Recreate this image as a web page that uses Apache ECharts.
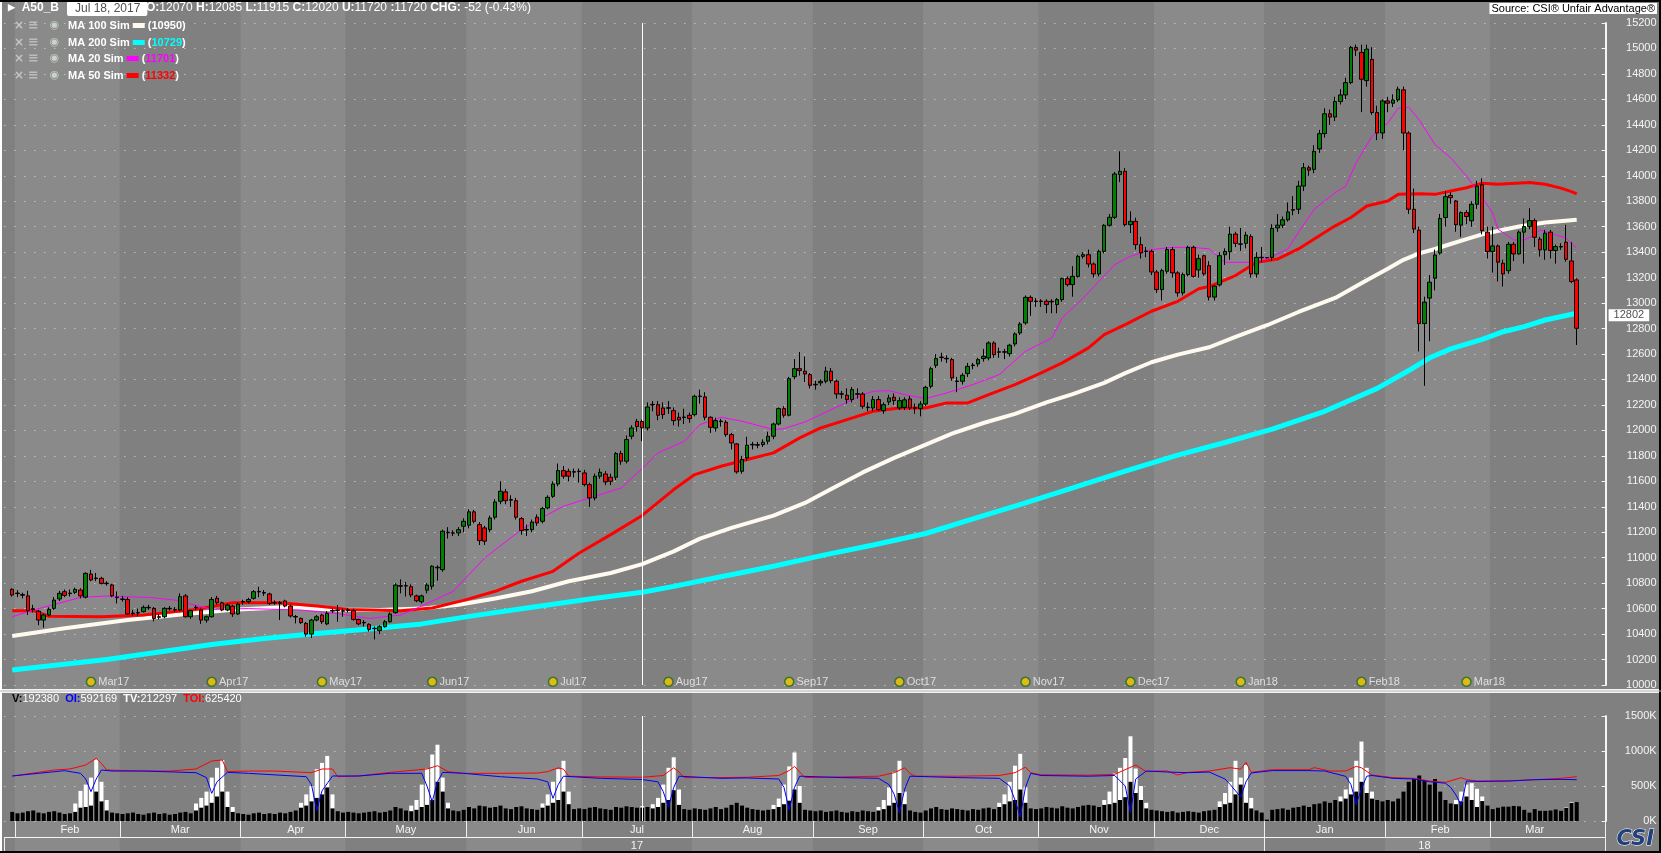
<!DOCTYPE html>
<html>
<head>
<meta charset="utf-8">
<title>A50_B</title>
<script src="https://cdn.jsdelivr.net/npm/echarts@6/dist/echarts.min.js"></script>
<style>
html, body { margin: 0; padding: 0; background: #808080; overflow: hidden; }
#chart { width: 1661px; height: 853px; }
</style>
</head>
<body>
<div id="chart"></div>
<script>
// bar 0 = 31 Jan 2017, one bar per weekday, last bar = 23 Mar 2018
// [open, close, low, high]
var ohlc = [
	[10751,10707,10694,10760],
	// Feb 17
	[10722,10718,10690,10745],[10710,10705,10680,10725],[10700,10584,10550,10740],[10600,10592,10570,10630],[10580,10510,10470,10590],
	[10510,10550,10450,10560],[10550,10594,10540,10610],[10602,10667,10590,10690],[10676,10720,10660,10740],[10733,10704,10690,10750],
	[10722,10718,10695,10750],[10728,10751,10715,10765],[10746,10700,10680,10760],[10690,10877,10680,10885],[10872,10825,10815,10905],
	[10840,10836,10815,10880],[10838,10798,10790,10850],[10800,10796,10780,10815],[10786,10700,10690,10795],[10690,10686,10640,10735],
	// Mar 17
	[10676,10672,10655,10700],[10672,10558,10550,10690],[10565,10561,10545,10590],[10568,10566,10540,10600],[10576,10610,10570,10625],
	[10610,10606,10590,10630],[10602,10523,10500,10612],[10536,10532,10515,10555],[10536,10602,10525,10612],[10602,10598,10585,10620],
	[10594,10590,10575,10612],[10589,10694,10580,10720],[10700,10536,10530,10715],[10536,10584,10520,10590],[10610,10606,10590,10625],
	[10590,10510,10480,10600],[10510,10536,10490,10545],[10536,10672,10530,10690],[10681,10646,10630,10700],[10646,10589,10580,10655],
	[10589,10628,10580,10640],[10620,10558,10535,10630],[10558,10636,10550,10650],
	// Apr 17
	[10656,10652,10630,10670],[10654,10672,10640,10685],[10681,10733,10670,10745],[10735,10731,10690,10772],[10726,10722,10700,10745],
	[10715,10641,10630,10725],[10648,10644,10630,10665],[10646,10642,10510,10660],[10660,10620,10610,10670],[10620,10542,10530,10630],
	[10538,10534,10484,10550],[10523,10490,10480,10530],[10484,10400,10380,10495],[10400,10510,10370,10520],[10510,10536,10500,10550],
	[10550,10497,10480,10560],[10480,10563,10470,10580],[10585,10581,10565,10600],[10589,10585,10497,10628],[10583,10580,10536,10600],
	// May 17
	[10590,10586,10570,10605],[10584,10515,10505,10600],[10515,10480,10470,10520],[10492,10488,10460,10510],[10476,10437,10420,10485],
	[10446,10442,10358,10460],[10427,10458,10400,10470],[10458,10497,10450,10510],[10497,10558,10490,10570],[10568,10785,10560,10800],
	[10780,10776,10720,10830],[10780,10778,10695,10810],[10772,10707,10690,10790],[10700,10662,10650,10710],[10654,10700,10640,10710],
	[10745,10785,10720,10800],[10776,10933,10750,10940],[10925,10920,10820,10940],[10906,11208,10890,11220],[11200,11196,11150,11240],
	[11195,11192,11170,11215],[11195,11220,11170,11240],[11247,11286,11200,11310],
	// Jun 17
	[11255,11360,11230,11380],[11360,11286,11270,11375],[11260,11134,11100,11280],[11234,11130,11100,11250],[11220,11312,11200,11330],
	[11318,11438,11300,11460],[11443,11522,11420,11600],[11517,11448,11420,11540],[11456,11452,11400,11490],[11448,11318,11300,11470],
	[11307,11213,11180,11320],[11222,11218,11170,11260],[11220,11280,11200,11300],[11318,11273,11250,11340],[11286,11386,11270,11400],
	[11391,11474,11380,11490],[11482,11579,11470,11600],[11579,11684,11560,11740],[11684,11640,11620,11720],[11679,11640,11600,11700],
	[11676,11672,11630,11700],[11680,11676,11590,11700],
	// Jul 17
	[11666,11574,11560,11690],[11574,11469,11400,11590],[11469,11640,11450,11660],[11640,11671,11620,11700],[11658,11595,11570,11680],
	[11632,11600,11570,11660],[11632,11818,11610,11830],[11818,11758,11730,11840],[11758,11928,11740,11960],[11954,12019,11930,12040],
	[12070,12030,11990,12090],[12070,12020,11915,12085],[12019,12184,12000,12220],[12204,12200,12150,12230],[12202,12119,12080,12230],
	[12176,12124,12090,12220],[12178,12174,12130,12230],[12155,12077,12040,12180],[12103,12082,12030,12140],[12105,12101,12050,12170],
	[12119,12093,12060,12140],
	// Aug 17
	[12124,12268,12110,12280],[12270,12266,12210,12320],[12263,12103,12080,12300],[12103,12024,11980,12110],[12019,12077,11990,12100],
	[12073,12069,12030,12090],[12064,11967,11950,12080],[11967,11901,11850,11980],[11894,11674,11660,11900],[11679,11771,11660,11800],
	[11784,11883,11760,11950],[11890,11886,11850,11910],[11888,11884,11860,11910],[11888,11907,11870,11930],[11915,11954,11890,11990],
	[11954,12050,11930,12060],[12050,12171,12040,12180],[12171,12119,12100,12190],[12119,12406,12110,12420],[12422,12485,12400,12560],
	[12485,12470,12430,12616],[12465,12443,12380,12580],[12438,12354,12330,12450],
	// Sep 17
	[12362,12358,12320,12390],[12373,12385,12350,12400],[12386,12465,12370,12500],[12465,12391,12370,12490],[12386,12286,12250,12400],
	[12288,12284,12250,12310],[12276,12242,12210,12330],[12242,12320,12220,12340],[12288,12284,12250,12330],[12286,12189,12170,12300],
	[12183,12179,12150,12220],[12176,12242,12150,12270],[12242,12163,12150,12270],[12155,12202,12130,12220],[12223,12255,12200,12280],
	[12260,12234,12200,12290],[12176,12234,12160,12260],[12180,12240,12160,12260],[12247,12176,12160,12270],[12178,12174,12130,12210],
	[12171,12207,12110,12230],
	// Oct 17
	[12207,12338,12190,12350],[12346,12485,12330,12500],[12511,12564,12490,12600],[12576,12572,12540,12610],[12566,12562,12530,12590],
	[12556,12412,12390,12570],[12388,12384,12300,12420],[12386,12433,12360,12450],[12446,12503,12420,12530],[12513,12509,12480,12530],
	[12522,12556,12500,12570],[12564,12582,12540,12640],[12569,12687,12550,12700],[12687,12595,12570,12700],[12618,12614,12570,12650],
	[12618,12614,12560,12640],[12603,12669,12580,12680],[12679,12758,12660,12770],[12765,12836,12750,12850],[12844,13045,12830,13060],
	[13045,13014,12900,13060],[13016,13012,12970,13040],
	// Nov 17
	[13016,13012,12970,13030],[13014,12988,12920,13030],[13014,13010,12920,13030],[12988,13027,12920,13040],[13027,13192,13010,13200],
	[13192,13145,13130,13210],[13145,13210,13050,13290],[13210,13367,13200,13380],[13367,13380,13350,13400],[13380,13307,13280,13420],
	[13307,13229,13200,13320],[13229,13406,13210,13420],[13406,13611,13390,13620],[13611,13674,13600,13700],[13674,14014,13660,14030],
	[14009,14035,13950,14192],[14035,13616,13600,14060],[13616,13642,13550,13720],[13642,13459,13420,13670],[13459,13394,13350,13520],
	[13409,13405,13360,13440],[13407,13244,13220,13420],
	// Dec 17
	[13244,13106,13080,13260],[13106,13255,13020,13270],[13250,13420,13230,13440],[13420,13237,13200,13440],[13237,13080,13050,13250],
	[13080,13224,13060,13240],[13224,13438,13210,13450],[13438,13210,13200,13450],[13260,13349,13200,13380],[13372,13229,13215,13380],
	[13294,13047,13020,13330],[13047,13133,13020,13140],[13143,13372,13130,13400],[13380,13406,13300,13430],[13404,13542,13340,13600],
	[13542,13469,13440,13560],[13465,13462,13410,13590],[13469,13534,13430,13560],[13523,13229,13200,13540],[13229,13359,13200,13400],
	[13360,13356,13320,13440],
	// Jan 18
	[13358,13356,13350,13362],[13359,13586,13330,13620],[13591,13612,13560,13700],[13612,13654,13590,13680],[13654,13716,13640,13790],
	[13730,13734,13690,13840],[13737,13919,13700,13960],[13919,14063,13880,14100],[14063,14044,14000,14080],[14050,14193,14020,14240],
	[14211,14331,14180,14360],[14331,14487,14300,14530],[14487,14461,14400,14520],[14461,14583,14430,14620],[14583,14635,14560,14680],
	[14635,14732,14600,14770],[14732,15008,14720,15020],[15008,14987,14940,15030],[14969,14758,14500,15030],[14747,14995,14700,15030],
	[14914,14497,14480,15010],[14497,14336,14280,14550],[14336,14588,14290,14600],
	// Feb 18
	[14588,14570,14500,14620],[14570,14596,14540,14640],[14596,14680,14580,14700],[14675,14336,14200,14700],[14336,13737,13700,14350],
	[13737,13581,13550,13900],[13573,12839,12620,13600],[12839,13008,12350,13050],[13039,13164,12700,13220],[13195,13378,13100,13420],
	[13393,13664,13380,13700],[13672,13836,13600,13880],[13846,13828,13780,13870],[13802,13615,13560,13810],[13612,13711,13520,13720],
	[13711,13680,13620,13730],[13646,13776,13600,13800],[13776,13919,13740,13960],[13929,13570,13540,13980],[13557,13405,13350,13600],
	// Mar 18
	[13405,13449,13240,13600],[13449,13321,13170,13460],[13313,13229,13130,13340],[13255,13462,13230,13480],[13462,13386,13330,13480],
	[13386,13557,13380,13570],[13557,13601,13310,13665],[13601,13648,13580,13745],[13648,13517,13440,13665],[13502,13418,13365,13520],
	[13418,13549,13340,13575],[13557,13413,13350,13575],[13413,13444,13310,13460],[13444,13440,13418,13470],[13478,13344,13325,13615],
	[13331,13169,13156,13478],[13182,12802,12671,13195]
];

// moving averages: [bar, value]
var ma20 = [[0,10536],[4,10589],[13,10688],[18,10699],[26,10688],[31,10667],[38,10594],[45,10600],[55,10589],[62,10560],[68,10523],
	[74,10550],[77,10602],[84,10736],[90,10998],[97,11221],[102,11339],[105,11404],[111,11483],[116,11548],[120,11701],[123,11823],
	[128,11914],[131,12045],[135,12103],[139,12072],[145,12006],[147,12014],[151,12066],[154,12124],[158,12202],[162,12281],[164,12307],
	[167,12312],[170,12281],[174,12250],[178,12294],[183,12360],[188,12438],[193,12621],[198,12726],[200,12883],[204,13040],[207,13171],
	[210,13302],[213,13367],[217,13420],[221,13438],[225,13438],[228,13425],[231,13320],[236,13320],[239,13346],[243,13425],[245,13555],
	[248,13737],[252,13867],[254,13919],[256,14102],[259,14310],[262,14414],[264,14531],[266,14539],[268,14440],[271,14245],[274,14141],
	[277,13997],[280,13830],[282,13706],[283,13581],[286,13496],[288,13496],[290,13536],[291,13575],[292,13562],[294,13536],[296,13510],[298,13431]];
var ma50 = [[0,10584],[4,10584],[7,10540],[17,10536],[25,10550],[35,10594],[42,10646],[51,10646],[58,10620],[64,10594],[74,10584],
	[80,10605],[86,10665],[92,10736],[97,10815],[103,10893],[108,11037],[114,11181],[120,11332],[126,11535],[130,11653],[135,11718],
	[140,11771],[145,11823],[150,11941],[154,12019],[159,12085],[164,12150],[169,12176],[174,12176],[178,12216],[182,12216],[186,12281],
	[191,12360],[196,12451],[200,12530],[205,12648],[208,12752],[212,12831],[217,12936],[222,13014],[226,13112],[228,13130],[233,13216],
	[237,13320],[241,13346],[245,13425],[248,13503],[252,13607],[255,13672],[258,13763],[262,13802],[264,13854],[268,13859],[271,13854],
	[274,13880],[277,13906],[280,13942],[283,13934],[289,13947],[292,13934],[295,13903],[297,13876],[298,13858]];
var ma100 = [[0,10385],[10,10445],[22,10510],[33,10557],[43,10594],[52,10610],[61,10594],[70,10590],[78,10600],[85,10630],[92,10680],
	[99,10736],[106,10815],[114,10880],[120,10950],[126,11050],[131,11150],[137,11234],[145,11330],[151,11430],[156,11540],[162,11670],
	[168,11784],[174,11888],[179,11975],[185,12058],[191,12130],[197,12220],[202,12285],[208,12373],[212,12450],[217,12535],[222,12595],
	[228,12653],[233,12735],[239,12826],[245,12930],[252,13040],[258,13180],[262,13270],[265,13340],[268,13390],[271,13425],[274,13464],
	[277,13503],[280,13540],[284,13576],[287,13602],[292,13633],[298,13654]];
var ma200 = [[0,10118],[18,10200],[38,10318],[48,10365],[58,10405],[68,10440],[78,10480],[88,10545],[99,10610],[110,10675],[120,10729],
	[126,10775],[135,10850],[145,10933],[155,11024],[164,11100],[174,11190],[183,11305],[193,11430],[202,11548],[212,11680],[222,11805],
	[231,11905],[240,12010],[250,12150],[260,12330],[266,12470],[270,12570],[274,12640],[280,12715],[284,12775],[288,12815],[292,12867],[298,12920]];

// volume of the adjusted contract, thousands
var volume = [
	130,
	110,120,140,150,120,110,130,140,120,100,110,130,190,200,220,420,280,150,120,110,
	100,110,120,100,90,110,120,100,110,90,100,120,130,110,150,190,220,260,350,420,200,130,110,
	100,90,110,120,100,110,100,120,110,130,150,190,220,280,330,380,480,180,140,120,
	130,120,110,120,130,140,120,130,150,200,180,150,140,160,200,230,300,560,420,180,150,140,160,
	200,180,220,210,190,200,220,180,170,200,210,180,170,160,190,220,260,300,420,240,170,180,
	170,190,200,180,170,160,200,190,210,200,190,192,200,180,200,260,300,440,230,170,160,
	180,170,160,180,200,170,190,230,260,220,190,170,160,150,160,170,200,240,290,450,260,160,150,
	140,150,130,140,150,130,120,140,130,150,140,130,150,170,220,260,400,240,150,130,120,
	150,180,200,170,160,180,170,160,150,170,160,180,190,170,200,240,280,300,450,260,180,170,
	180,200,190,180,210,190,180,200,220,230,220,200,230,240,260,300,340,560,400,300,180,160,
	150,140,130,140,120,130,140,130,120,140,150,160,200,240,260,380,520,260,180,150,120,
	20,160,170,180,160,190,200,220,200,240,250,280,260,300,280,320,380,420,560,400,320,300,280,
	300,280,320,420,560,600,650,580,520,600,420,300,250,240,280,350,300,200,285,220,
	170,190,205,205,215,210,160,120,170,145,145,150,165,145,190,260,270
];
// total volume where it stands above the contract volume: [bar, thousands]
var totalVolume = [[12,250],[13,430],[14,520],[15,620],[16,880],[17,560],[18,300],
	[35,250],[36,330],[37,420],[38,620],[39,760],[40,870],[41,420],[42,200],
	[55,260],[56,380],[57,500],[58,740],[59,830],[60,930],[61,380],
	[76,220],[77,300],[78,520],[79,750],[80,950],[81,1090],[82,620],[83,260],
	[101,250],[102,380],[103,560],[104,740],[105,860],[106,420],
	[120,212],[122,240],[123,330],[124,520],[125,760],[126,910],[127,450],
	[145,230],[146,320],[147,520],[148,780],[149,980],[150,500],
	[165,200],[166,300],[167,480],[168,700],[169,860],[170,420],
	[188,260],[189,380],[190,560],[191,790],[192,960],[193,480],
	[208,300],[209,420],[210,680],[211,760],[212,900],[213,1210],[214,750],[215,500],[216,260],
	[230,280],[231,400],[232,560],[233,860],[234,620],[235,800],[236,330],
	[253,350],[254,450],[255,620],[256,860],[257,1135],[258,760],[259,420],
	[275,300],[276,420],[277,520],[278,540],[279,460],[280,350],[296,200],[297,272]];
var openInterest = [[0,643],[5,681],[10,719],[13,681],[14,600],[15,419],[16,600],[17,729],[19,714],[25,714],[35,690],[37,620],[38,395],
	[39,560],[41,695],[45,681],[56,633],[57,520],[58,150],[59,430],[61,643],[66,643],[72,681],[78,681],[79,500],[80,276],[81,560],[82,695],
	[86,681],[93,633],[100,600],[102,560],[103,324],[104,520],[105,640],[112,610],[120,592],[123,560],[124,420],[125,200],[126,480],[127,640],
	[135,610],[140,615],[146,600],[147,480],[148,160],[149,480],[150,640],[158,620],[165,610],[167,520],[168,380],[169,120],[170,460],
	[171,640],[180,620],[188,610],[190,500],[191,300],[192,60],[193,480],[194,680],[196,650],[205,640],[210,650],[212,500],[213,120],
	[214,600],[216,714],[220,700],[224,690],[228,700],[231,600],[232,520],[234,343],[235,560],[236,686],[240,720],[247,720],[250,714],
	[254,638],[255,520],[256,238],[257,460],[258,640],[259,650],[263,610],[267,600],[270,560],[273,540],[274,480],[275,371],[276,229],
	[277,571],[279,565],[285,570],[290,590],[295,595],[298,590]];
var totalOI = [[0,643],[5,695],[8,729],[11,743],[14,800],[16,895],[17,820],[18,729],[24,714],[30,714],[35,743],[38,857],[40,871],
	[41,705],[45,714],[50,714],[57,690],[59,743],[61,743],[62,633],[66,643],[72,695],[79,743],[81,790],[83,705],[86,681],[93,681],
	[100,685],[102,705],[104,760],[105,740],[106,640],[112,630],[120,625],[124,650],[126,760],[127,700],[128,620],[135,620],[140,625],
	[146,650],[148,720],[149,780],[150,700],[151,620],[158,630],[165,640],[168,690],[170,760],[171,680],[172,640],[180,640],[188,650],
	[191,690],[193,770],[194,690],[196,660],[205,655],[210,667],[214,800],[216,705],[218,714],[220,714],[222,657],[224,695],[228,714],
	[232,762],[234,740],[235,838],[236,695],[240,733],[247,733],[248,762],[251,714],[254,714],[256,781],[257,760],[259,657],[263,619],
	[267,610],[270,571],[273,552],[276,619],[277,590],[279,571],[285,575],[290,590],[295,610],[298,633]];

// contract roll markers: [bar, label]
var rollMarks = [[15,'Mar17'],[38,'Apr17'],[59,'May17'],[80,'Jun17'],[103,'Jul17'],[125,'Aug17'],[148,'Sep17'],
	[169,'Oct17'],[193,'Nov17'],[213,'Dec17'],[234,'Jan18'],[257,'Feb18'],[277,'Mar18']];
var monthNames = ['Jan','Feb','Mar','Apr','May','Jun','Jul','Aug','Sep','Oct','Nov','Dec'];
var cursorBar = 120;
var lastClose = 12802;

// ---- categories: every weekday from 30 Jan 2017 to 30 Mar 2018
var categories = [];
(function () {
	var d = new Date(Date.UTC(2017, 0, 30));
	var end = Date.UTC(2018, 2, 30);
	while (d.getTime() <= end) {
		var w = d.getUTCDay();
		if (w > 0 && w < 6) categories.push(d.toISOString().slice(0, 10));
		d.setUTCDate(d.getUTCDate() + 1);
	}
})();
var slot0 = 1; // bar 0 sits in category slot 1
var lastSlot = slot0 + ohlc.length - 1;

function shift(pairs) {
	return pairs.map(function (p) { return [p[0] + slot0, p[1]]; });
}
var candleData = categories.map(function (c, k) { return ohlc[k - slot0] || '-'; });
var volumeData = categories.map(function (c, k) { var v = volume[k - slot0]; return v == null ? '-' : v; });

function ym(k) { return categories[k].slice(0, 7); }
function isMonthStart(k) { return k > 0 && ym(k) !== ym(k - 1); }
var monthMid = {}, yearMid = {}, yearStart = {0: true};
(function () {
	var mRuns = {}, yRuns = {};
	for (var k = 0; k <= lastSlot; k++) {
		(mRuns[ym(k)] = mRuns[ym(k)] || []).push(k);
		var y = categories[k].slice(0, 4);
		(yRuns[y] = yRuns[y] || []).push(k);
		if (k > 0 && y !== categories[k - 1].slice(0, 4)) yearStart[k] = true;
	}
	Object.keys(mRuns).forEach(function (key) {
		var r = mRuns[key];
		if (r.length >= 3) monthMid[r[Math.round((r.length - 1) / 2)]] = monthNames[+key.slice(5, 7) - 1];
	});
	Object.keys(yRuns).forEach(function (key) {
		var r = yRuns[key];
		yearMid[r[Math.round((r.length - 1) / 2)]] = key.slice(2);
	});
})();

var FONT = "'Liberation Sans', Arial, sans-serif";
var LEFT = 4.35, WIDTH = 5.25 * categories.length;

var chart = echarts.init(document.getElementById('chart'));
var option = {
	animation: false,
	backgroundColor: '#808080',
	textStyle: { fontFamily: FONT },
	title: [
		{ left: 8, top: 2, padding: 0, text: '{t|\u25B6}  A50_B',
			textStyle: { color: '#ffffff', fontSize: 12, fontFamily: FONT, rich: { t: { color: '#ffffff', fontSize: 9 } } } },
		{ left: 67, top: 1, padding: [2, 7, 1, 8], text: 'Jul 18, 2017', backgroundColor: '#ffffff', borderRadius: 2,
			textStyle: { color: '#505050', fontSize: 12, fontWeight: 'normal', fontFamily: FONT } },
		{ left: 146, top: 2, padding: 0,
			text: '{k|O:}12070 {k|H:}12085 {k|L:}11915 {k|C:}12020 {k|U:}11720 {k|:}11720 {k|CHG:} -52 (-0.43%)',
			textStyle: { color: '#ffffff', fontSize: 12, fontWeight: 'normal', fontFamily: FONT,
				rich: { k: { color: '#ffffff', fontSize: 12, fontWeight: 'bold', fontFamily: FONT } } } },
		legendRow(19, 'MA 100 Sim', '#fffaf0', '10950', '#ffffff'),
		legendRow(36, 'MA 200 Sim', '#00ffff', '10729', '#00ffff'),
		legendRow(52, 'MA 20 Sim', '#ff00ff', '11701', '#ff00ff'),
		legendRow(69, 'MA 50 Sim', '#ff0000', '11332', '#ff0000'),
		{ right: 4, top: 3, padding: [0, 2, 0, 2], backgroundColor: '#ffffff', text: 'Source: CSI\u00AE Unfair Advantage\u00AE',
			textStyle: { color: '#000000', fontSize: 11, fontWeight: 'normal', fontFamily: FONT } },
		{ left: 12, top: 693, padding: 0,
			text: '{v|V:}192380  {o|OI:}592169  {w|TV:}212297  {r|TOI:}625420',
			textStyle: { color: '#ffffff', fontSize: 11, fontWeight: 'normal', fontFamily: FONT,
				rich: {
					v: { color: '#000000', fontWeight: 'bold', fontSize: 11, fontFamily: FONT },
					o: { color: '#0000ff', fontWeight: 'bold', fontSize: 11, fontFamily: FONT },
					w: { color: '#ffffff', fontWeight: 'bold', fontSize: 11, fontFamily: FONT },
					r: { color: '#ff0000', fontWeight: 'bold', fontSize: 11, fontFamily: FONT }
				} } },
		{ right: 6, top: 829, padding: 0, text: 'CSI',
			textStyle: { color: '#213f7c', fontSize: 21, fontWeight: 'bold', fontStyle: 'italic', fontFamily: "'DejaVu Sans', sans-serif",
				textBorderColor: '#ffffff', textBorderWidth: 1 } }
	],
	graphic: [
		{ type: 'rect', shape: { x: 0, y: 689, width: 1661, height: 4 }, style: { fill: '#f2f2f2' }, z: 10 },
		{ type: 'rect', shape: { x: 0, y: 690.5, width: 1661, height: 1 }, style: { fill: '#b8b8b8' }, z: 11 },
		{ type: 'rect', shape: { x: 0, y: 0, width: 2, height: 853 }, style: { fill: '#ffffff' }, z: 10 },
		{ type: 'rect', shape: { x: 0, y: 0, width: 1661, height: 2 }, style: { fill: '#000000' }, z: 10 },
		{ type: 'rect', shape: { x: 1659, y: 0, width: 2, height: 853 }, style: { fill: '#000000' }, z: 10 },
		{ type: 'rect', shape: { x: 0, y: 851, width: 1661, height: 2 }, style: { fill: '#000000' }, z: 10 }
	],
	grid: [
		{ left: LEFT, width: WIDTH, top: 2, height: 849 },
		{ left: LEFT, width: WIDTH, top: 23, height: 662 },
		{ left: LEFT, width: WIDTH, top: 716, height: 105 }
	],
	xAxis: [
		{ type: 'category', gridIndex: 0, data: categories, boundaryGap: true, z: 0,
			axisLine: { show: false }, axisTick: { show: false }, axisLabel: { show: false },
			splitArea: { show: true, interval: function (k) { return k === 0 || isMonthStart(k); },
				areaStyle: { color: ['#808080', '#8a8a8a'] } } },
		{ type: 'category', gridIndex: 1, data: categories, boundaryGap: true, show: false },
		{ type: 'category', gridIndex: 2, data: categories, boundaryGap: true, position: 'bottom',
			axisLine: { show: false },
			axisTick: { show: true, length: 16, interval: function (k) { return isMonthStart(k); }, lineStyle: { color: '#f0f0f0' } },
			axisLabel: { show: true, margin: 3, color: '#f4f4f4', fontSize: 11, fontFamily: FONT,
				interval: function (k) { return monthMid[k] != null; },
				formatter: function (v, k) { return monthMid[k] || ''; } } },
		{ type: 'category', gridIndex: 2, data: categories, boundaryGap: true, position: 'bottom', offset: 16,
			axisLine: { show: true, lineStyle: { color: '#f4f4f4', width: 1 } },
			axisTick: { show: true, length: 14, interval: function (k) { return !!yearStart[k]; }, lineStyle: { color: '#f0f0f0' } },
			axisLabel: { show: true, margin: 3, color: '#f4f4f4', fontSize: 11, fontFamily: FONT,
				interval: function (k) { return yearMid[k] != null; },
				formatter: function (v, k) { return yearMid[k] || ''; } } }
	],
	yAxis: [
		{ type: 'value', gridIndex: 0, show: false },
		{ type: 'value', gridIndex: 1, position: 'right', min: 10000, max: 15200, interval: 200, z: 1,
			axisLine: { show: true, lineStyle: { color: '#f4f4f4', width: 2 } },
			axisTick: { show: true, inside: true, length: 4, lineStyle: { color: '#f4f4f4' } },
			axisLabel: { color: '#f4f4f4', fontSize: 11, fontFamily: FONT, align: 'right', margin: 51,
				formatter: function (v) { return String(v); } },
			splitLine: { show: true, lineStyle: { color: '#dcdcdc', width: 1, type: [1, 9] } } },
		{ type: 'value', gridIndex: 2, position: 'right', min: 0, max: 1500, interval: 500, z: 1,
			axisLine: { show: true, lineStyle: { color: '#f4f4f4', width: 2 } },
			axisTick: { show: true, inside: true, length: 4, lineStyle: { color: '#f4f4f4' } },
			axisLabel: { color: '#f4f4f4', fontSize: 11, fontFamily: FONT, align: 'right', margin: 51,
				formatter: function (v) { return String(v) + 'K'; } },
			splitLine: { show: true, lineStyle: { color: '#dcdcdc', width: 1, type: [1, 9] } } }
	],
	series: [
		maLine('MA 200 Sim', ma200, '#00ffff', 5),
		maLine('MA 100 Sim', ma100, '#fffaf0', 4),
		maLine('MA 50 Sim', ma50, '#ff0000', 3),
		maLine('MA 20 Sim', ma20, '#ff00ff', 1),
		{
			name: 'A50_B', type: 'candlestick', xAxisIndex: 1, yAxisIndex: 1, data: candleData, barWidth: 4, z: 5,
			itemStyle: { color: '#008000', color0: '#ff0000', borderColor: '#000000', borderColor0: '#000000',
				borderColorDoji: '#000000', borderWidth: 1 },
			markLine: {
				silent: true, symbol: ['none', 'none'], animation: false,
				data: [
					{ xAxis: cursorBar + slot0, lineStyle: { color: '#ffffff', width: 1, type: 'solid' }, label: { show: false } },
					{ yAxis: lastClose, lineStyle: { color: 'rgba(0,0,0,0)', width: 0 },
						label: { show: true, position: 'end', distance: 3, offset: [0, -13], formatter: String(lastClose),
							backgroundColor: '#ffffff', color: '#505050', fontSize: 11, fontFamily: FONT, padding: [1, 5, 0, 5] } }
				]
			}
		},
		{
			name: 'roll', type: 'scatter', xAxisIndex: 1, yAxisIndex: 1, z: 6, symbol: 'circle', symbolSize: 9,
			data: rollMarks.map(function (r) { return [r[0] + slot0, 10025, r[1]]; }),
			itemStyle: { color: '#f5c400', borderColor: '#1f6b1f', borderWidth: 1.5 },
			label: { show: true, position: 'right', distance: 2, color: '#f4f4f4', fontSize: 11, fontFamily: FONT,
				formatter: function (p) { return p.data[2]; } }
		},
		{ name: 'TV', type: 'bar', xAxisIndex: 2, yAxisIndex: 2, data: shift(totalVolume), barWidth: 4, barGap: '-100%',
			itemStyle: { color: '#ffffff' }, z: 2 },
		{ name: 'V', type: 'bar', xAxisIndex: 2, yAxisIndex: 2, data: volumeData, barWidth: 4, barGap: '-100%',
			itemStyle: { color: '#000000' }, z: 3,
			markLine: { silent: true, symbol: ['none', 'none'], animation: false, label: { show: false },
				data: [{ xAxis: cursorBar + slot0 }], lineStyle: { color: '#ffffff', width: 1, type: 'solid' } } },
		{ name: 'TOI', type: 'line', xAxisIndex: 2, yAxisIndex: 2, data: shift(totalOI), symbol: 'none', z: 4,
			lineStyle: { color: '#ff0000', width: 1 } },
		{ name: 'OI', type: 'line', xAxisIndex: 2, yAxisIndex: 2, data: shift(openInterest), symbol: 'none', z: 4,
			lineStyle: { color: '#0000ff', width: 1 } }
	]
};

function maLine(name, pts, color, width) {
	return { name: name, type: 'line', xAxisIndex: 1, yAxisIndex: 1, data: shift(pts), symbol: 'none', z: 3,
		lineStyle: { color: color, width: width } };
}

function legendRow(top, label, swatch, value, valueColor) {
	return {
		left: 12, top: top, padding: 0,
		text: '{a|\u00D7}{b|\u2261}{c|\u25C9}{t|' + label + '}{g| }{s| }{g| }{t|(}{v|' + value + '}{t|)}',
		textStyle: {
			fontSize: 11, fontFamily: FONT, color: '#ffffff',
			rich: {
				a: { width: 14, align: 'center', color: '#c4c4c4', fontSize: 12, fontWeight: 'bold', fontFamily: "'DejaVu Sans', sans-serif" },
				b: { width: 15, align: 'center', color: '#bcbcbc', fontSize: 13, fontFamily: "'DejaVu Sans', sans-serif" },
				c: { width: 27, align: 'center', color: '#c8d4c8', fontSize: 11, fontFamily: "'DejaVu Sans', sans-serif" },
				t: { color: '#ffffff', fontSize: 11, fontFamily: FONT },
				g: { width: 3, fontSize: 11 },
				s: { width: 12, height: 5, backgroundColor: swatch, fontSize: 5, lineHeight: 5 },
				v: { color: valueColor, fontSize: 11, fontFamily: FONT }
			}
		}
	};
}

chart.setOption(option);
window.addEventListener('resize', function () {
	chart.resize();
});
</script>
</body>
</html>
